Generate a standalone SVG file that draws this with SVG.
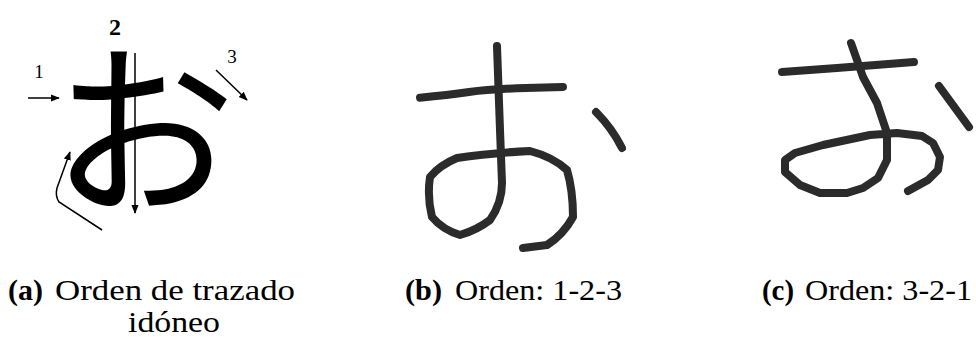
<svg xmlns="http://www.w3.org/2000/svg" width="976" height="341" viewBox="0 0 976 341">
<style>
.cap{font-family:"Liberation Serif","Times New Roman",serif;font-size:30px;fill:#000}
.lab{font-family:"Liberation Serif","Times New Roman",serif;fill:#000}
.arr{stroke:#000;stroke-width:1.5;fill:none}
.hand{stroke:#2b2b2b;stroke-width:8;fill:none;stroke-linecap:round;stroke-linejoin:round}
</style>
<defs>
<marker id="ah" viewBox="0 0 10 10" refX="9" refY="5" markerWidth="9" markerHeight="9" markerUnits="userSpaceOnUse" orient="auto">
<path d="M0,1 L10,5 L0,9 Z" fill="#000"/>
</marker>
</defs>
<rect width="976" height="341" fill="#fff"/>
<g id="panel-a">
<text x="51" y="200" font-family="'Noto Sans CJK JP',sans-serif" font-weight="400" font-size="185" fill="#000">お</text>
<text class="lab" x="39" y="78" font-size="19" text-anchor="middle">1</text>
<text class="lab" x="115" y="35" font-size="24" font-weight="bold" text-anchor="middle">2</text>
<text class="lab" x="232" y="63" font-size="19" text-anchor="middle">3</text>
<line class="arr" x1="28" y1="98" x2="59" y2="98" marker-end="url(#ah)"/>
<line class="arr" x1="135" y1="53" x2="135" y2="213" marker-end="url(#ah)"/>
<line class="arr" x1="216" y1="70" x2="247" y2="100" marker-end="url(#ah)"/>
<path class="arr" d="M102,230 L59,202 Q55,196 57,188 L70,152" marker-end="url(#ah)"/>
</g>
<g id="panel-b">
<path class="hand" d="M420,97.7 Q448,95 469,92 Q490,89 526,88 L563,87"/>
<path class="hand" d="M497,46 L500,130 L502,183 Q502,203 490,220 Q477,230 460,235 Q443,230 432,217 Q427,197 430,177 Q440,165 457,158 Q490,153 530,151 Q553,157 567,170 Q573,190 573,217 Q563,235 547,245 L523,248"/>
<path class="hand" d="M596,112 Q612,128 622,148"/>
</g>
<g id="panel-c">
<polyline class="hand" points="782,72 837,68 914,62"/>
<polyline class="hand" points="851,43 863,77 877,103 887,133 887,160 878,178 863,188 847,193 820,193 800,185 785,172 785,160 795,153 823,145 870,135 897,133 922,136 933,143 940,157 938,170 928,180 908,191"/>
<polyline class="hand" points="939,86 969,127"/>
</g>
<g id="captions">
<text class="cap" x="8" y="300"><tspan font-weight="bold" textLength="35" lengthAdjust="spacingAndGlyphs">(a)</tspan><tspan x="55" textLength="240" lengthAdjust="spacingAndGlyphs">Orden de trazado</tspan></text>
<text class="cap" x="128" y="332" textLength="92" lengthAdjust="spacingAndGlyphs">idóneo</text>
<text class="cap" x="405" y="300"><tspan font-weight="bold" textLength="37" lengthAdjust="spacingAndGlyphs">(b)</tspan><tspan x="455" textLength="167" lengthAdjust="spacingAndGlyphs">Orden: 1-2-3</tspan></text>
<text class="cap" x="762" y="300"><tspan font-weight="bold" textLength="32" lengthAdjust="spacingAndGlyphs">(c)</tspan><tspan x="805" textLength="167" lengthAdjust="spacingAndGlyphs">Orden: 3-2-1</tspan></text>
</g>
</svg>
